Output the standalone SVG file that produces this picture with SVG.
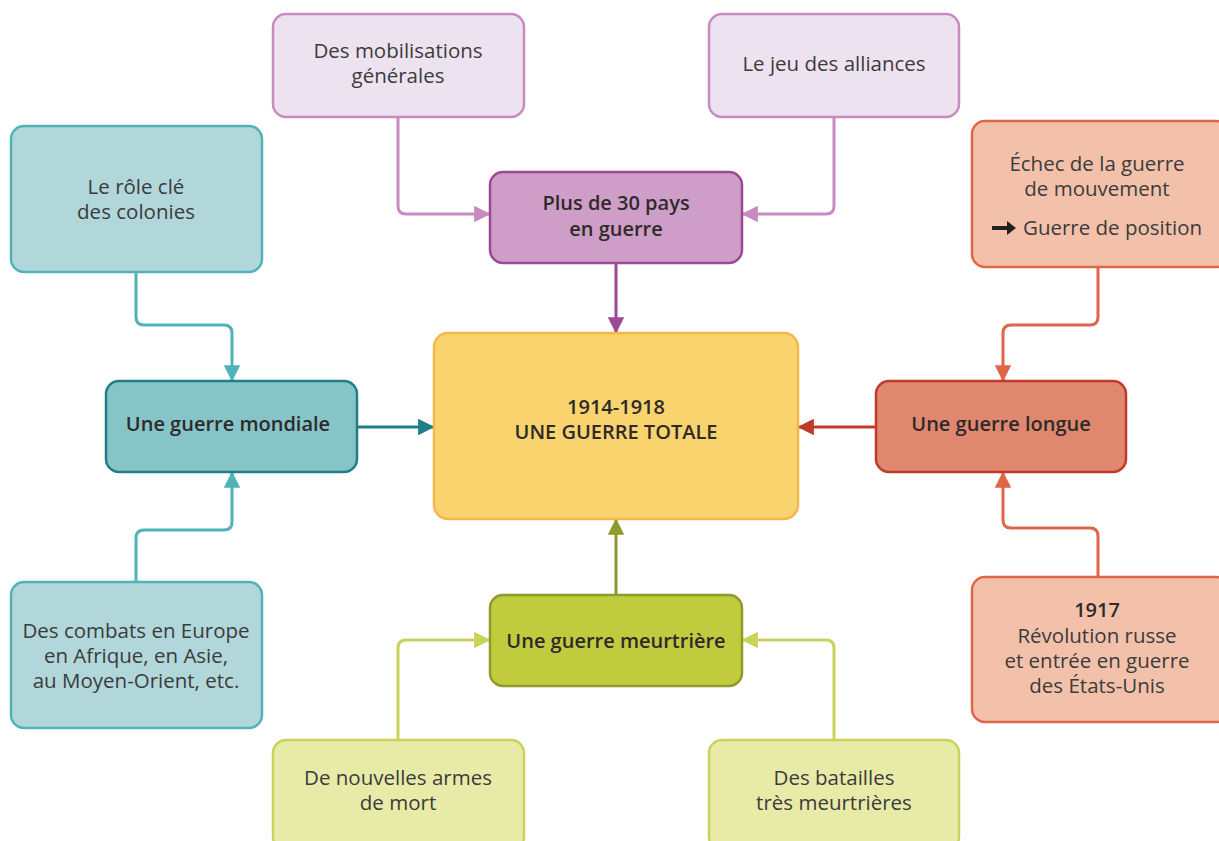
<svg xmlns="http://www.w3.org/2000/svg" width="1219" height="841" viewBox="0 0 1219 841">
<style>
text{font-family:"Open Sans","Noto Sans","Liberation Sans",sans-serif;font-size:20.5px;fill:#3b3b3b;text-anchor:middle}
.b{font-weight:600;fill:#2e2a2a;font-size:20px}
rect{stroke-width:2.5}
.lav{fill:#ede3f0;stroke:#c98bbf}
.pur{fill:#cf9ec8;stroke:#9a4a95}
.ctr{fill:#f8d36e;stroke:#f2b84b}
.lt{fill:#b1d7da;stroke:#4fb3b8}
.dt{fill:#87c4c8;stroke:#1f7f86}
.lo{fill:#f3c1aa;stroke:#e0664a}
.do{fill:#e0876f;stroke:#c0392b}
.lg{fill:#e8eba8;stroke:#c9d35c}
.dg{fill:#c0cc3e;stroke:#8c9b2b}
.c{fill:none;stroke-width:3;stroke-linejoin:round}
</style>
<defs>
<marker id="m-lav" viewBox="0 0 10 10" refX="9" refY="5" markerWidth="5.5" markerHeight="5.5" markerUnits="strokeWidth" orient="auto"><path d="M0,0L10,5L0,10z" fill="#c98bbf"/></marker>
<marker id="m-pur" viewBox="0 0 10 10" refX="9" refY="5" markerWidth="5.5" markerHeight="5.5" markerUnits="strokeWidth" orient="auto"><path d="M0,0L10,5L0,10z" fill="#9a4a95"/></marker>
<marker id="m-lt" viewBox="0 0 10 10" refX="9" refY="5" markerWidth="5.5" markerHeight="5.5" markerUnits="strokeWidth" orient="auto"><path d="M0,0L10,5L0,10z" fill="#4fb3b8"/></marker>
<marker id="m-dt" viewBox="0 0 10 10" refX="9" refY="5" markerWidth="5.5" markerHeight="5.5" markerUnits="strokeWidth" orient="auto"><path d="M0,0L10,5L0,10z" fill="#1f7f86"/></marker>
<marker id="m-lo" viewBox="0 0 10 10" refX="9" refY="5" markerWidth="5.5" markerHeight="5.5" markerUnits="strokeWidth" orient="auto"><path d="M0,0L10,5L0,10z" fill="#e0664a"/></marker>
<marker id="m-do" viewBox="0 0 10 10" refX="9" refY="5" markerWidth="5.5" markerHeight="5.5" markerUnits="strokeWidth" orient="auto"><path d="M0,0L10,5L0,10z" fill="#c0392b"/></marker>
<marker id="m-lg" viewBox="0 0 10 10" refX="9" refY="5" markerWidth="5.5" markerHeight="5.5" markerUnits="strokeWidth" orient="auto"><path d="M0,0L10,5L0,10z" fill="#c9d35c"/></marker>
<marker id="m-dg" viewBox="0 0 10 10" refX="9" refY="5" markerWidth="5.5" markerHeight="5.5" markerUnits="strokeWidth" orient="auto"><path d="M0,0L10,5L0,10z" fill="#8c9b2b"/></marker>
</defs>
<rect width="1219" height="841" fill="#ffffff" style="stroke:none"/>
<g id="connectors">
<path class="c" stroke="#c98bbf" marker-end="url(#m-lav)" d="M398,118V206Q398,214 406,214H489"/>
<path class="c" stroke="#c98bbf" marker-end="url(#m-lav)" d="M834,118V206Q834,214 826,214H743"/>
<path class="c" stroke="#9a4a95" marker-end="url(#m-pur)" d="M616,264V332"/>
<path class="c" stroke="#4fb3b8" marker-end="url(#m-lt)" d="M136,273V317Q136,325 144,325H224Q232,325 232,333V380"/>
<path class="c" stroke="#4fb3b8" marker-end="url(#m-lt)" d="M136,581V538Q136,530 144,530H224Q232,530 232,522V473"/>
<path class="c" stroke="#1f7f86" marker-end="url(#m-dt)" d="M358,427H433"/>
<path class="c" stroke="#e0664a" marker-end="url(#m-lo)" d="M1098,268V317Q1098,325 1090,325H1011Q1003,325 1003,333V380"/>
<path class="c" stroke="#e0664a" marker-end="url(#m-lo)" d="M1098,576V536Q1098,528 1090,528H1011Q1003,528 1003,520V473"/>
<path class="c" stroke="#c0392b" marker-end="url(#m-do)" d="M875,427H799"/>
<path class="c" stroke="#8c9b2b" marker-end="url(#m-dg)" d="M616,594V520"/>
<path class="c" stroke="#c9d35c" marker-end="url(#m-lg)" d="M398,739V648Q398,640 406,640H489"/>
<path class="c" stroke="#c9d35c" marker-end="url(#m-lg)" d="M834,739V648Q834,640 826,640H743"/>
</g>
<g id="n-mobilisations"><rect class="lav" x="273" y="14" width="251" height="103" rx="13"/><text x="398" y="58">Des mobilisations</text><text x="398" y="83">générales</text></g>
<g id="n-alliances"><rect class="lav" x="709" y="14" width="250" height="103" rx="13"/><text x="834" y="71">Le jeu des alliances</text></g>
<g id="n-pays"><rect class="pur" x="490" y="172" width="252" height="91" rx="13"/><text class="b" x="616" y="210">Plus de 30 pays</text><text class="b" x="616" y="236">en guerre</text></g>
<g id="n-centre"><rect class="ctr" x="434" y="333" width="364" height="186" rx="14"/><text class="b" x="616" y="414">1914-1918</text><text class="b" x="616" y="439">UNE GUERRE TOTALE</text></g>
<g id="n-colonies"><rect class="lt" x="11" y="126" width="251" height="146" rx="13"/><text x="136" y="194">Le rôle clé</text><text x="136" y="219">des colonies</text></g>
<g id="n-mondiale"><rect class="dt" x="106" y="381" width="251" height="91" rx="13"/><text class="b" x="228" y="431">Une guerre mondiale</text></g>
<g id="n-combats"><rect class="lt" x="11" y="582" width="251" height="146" rx="13"/><text x="136" y="638">Des combats en Europe</text><text x="136" y="663">en Afrique, en Asie,</text><text x="136" y="688">au Moyen-Orient, etc.</text></g>
<g id="n-echec"><rect class="lo" x="972" y="121" width="257" height="146" rx="13"/><text x="1097" y="171">Échec de la guerre</text><text x="1097" y="196">de mouvement</text><path d="M992,226H1007V221L1016,228L1007,235V230H992z" fill="#222"/><text x="1023" y="235" style="text-anchor:start">Guerre de position</text></g>
<g id="n-longue"><rect class="do" x="876" y="381" width="250" height="91" rx="13"/><text class="b" x="1001" y="431">Une guerre longue</text></g>
<g id="n-1917"><rect class="lo" x="972" y="577" width="257" height="145" rx="13"/><text class="b" x="1097" y="617">1917</text><text x="1097" y="643">Révolution russe</text><text x="1097" y="668">et entrée en guerre</text><text x="1097" y="693">des États-Unis</text></g>
<g id="n-meurtriere"><rect class="dg" x="490" y="595" width="252" height="91" rx="13"/><text class="b" x="616" y="648">Une guerre meurtrière</text></g>
<g id="n-armes"><rect class="lg" x="273" y="740" width="251" height="110" rx="13"/><text x="398" y="785">De nouvelles armes</text><text x="398" y="810">de mort</text></g>
<g id="n-batailles"><rect class="lg" x="709" y="740" width="250" height="110" rx="13"/><text x="834" y="785">Des batailles</text><text x="834" y="810">très meurtrières</text></g>
</svg>
